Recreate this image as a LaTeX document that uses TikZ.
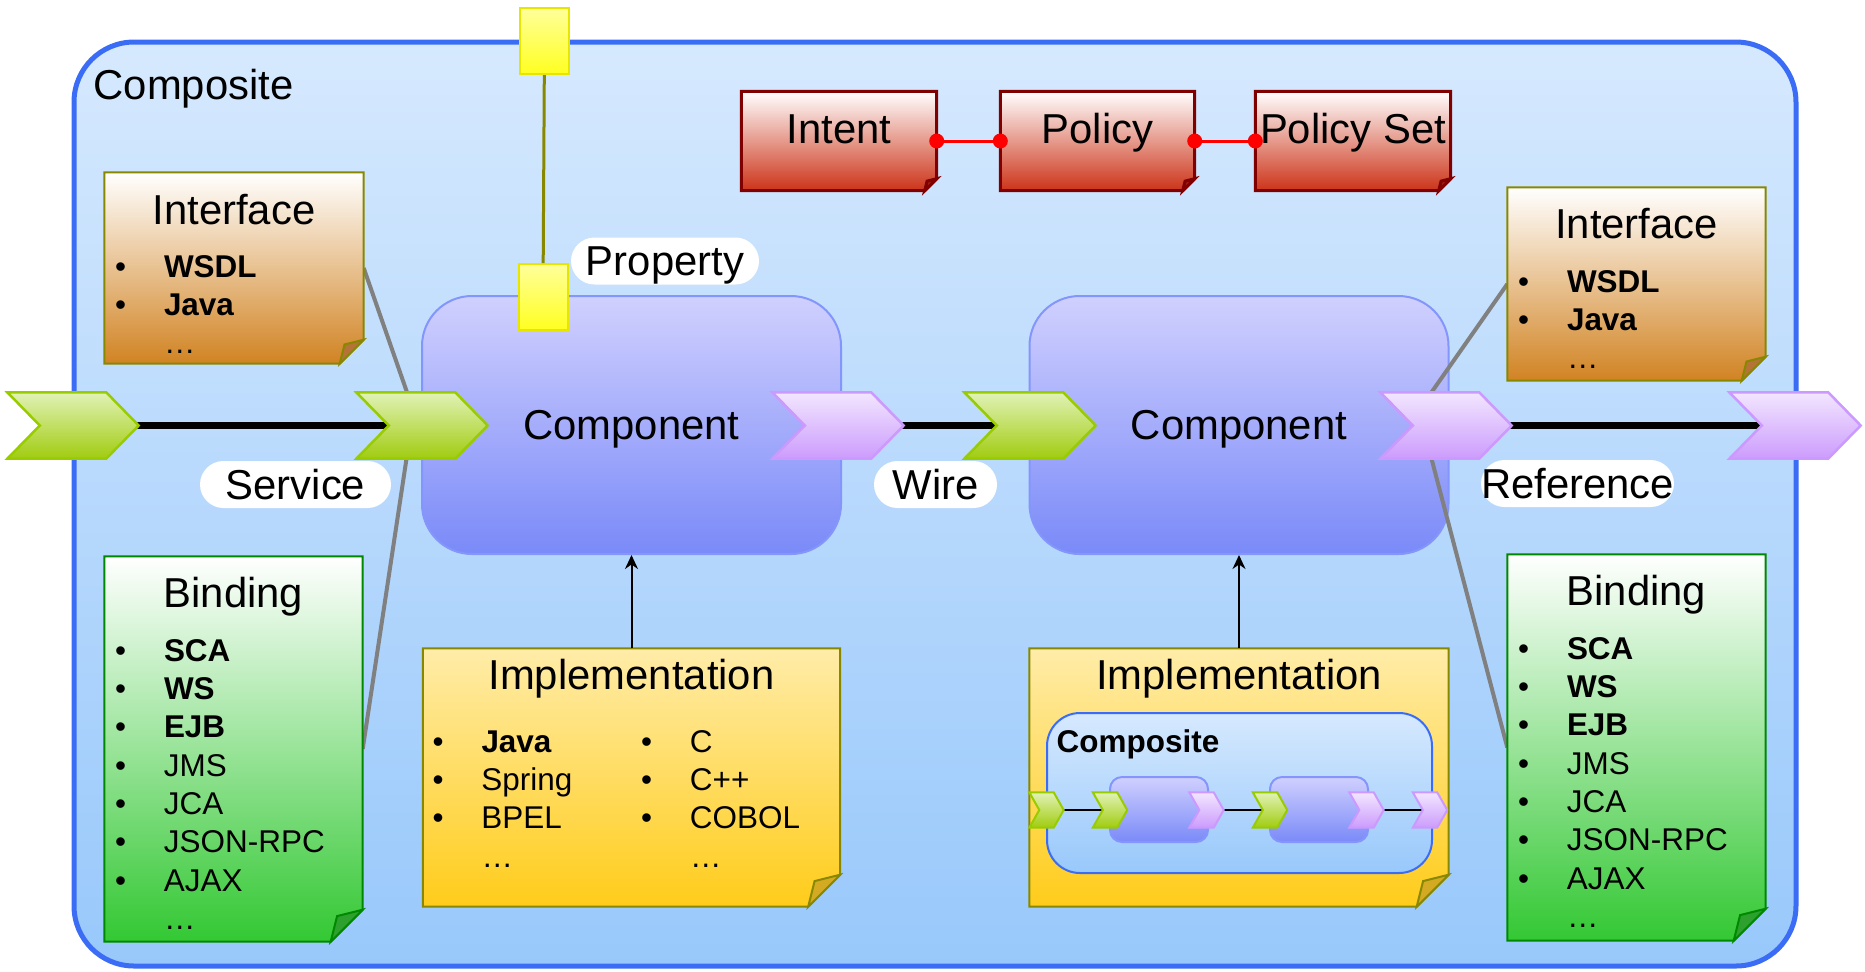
\documentclass[tikz,border=0pt]{standalone}
\usepackage{fontspec}
\setmainfont{Liberation Sans}
\usetikzlibrary{arrows.meta}

\definecolor{bgtop}{HTML}{D6E9FE}
\definecolor{bgbot}{HTML}{98C8FB}
\definecolor{frameline}{HTML}{3B6CF6}
\definecolor{comptop}{HTML}{D0D0FE}
\definecolor{compbot}{HTML}{7A8AF8}
\definecolor{compline}{HTML}{8495FB}
\definecolor{olv}{HTML}{888800}
\definecolor{brnbot}{HTML}{D18322}
\definecolor{brnflap}{HTML}{B5733A}
\definecolor{grnline}{HTML}{008800}
\definecolor{grnbot}{HTML}{33C833}
\definecolor{grnflap}{HTML}{2EA02E}
\definecolor{ylwtop}{HTML}{FFECA8}
\definecolor{ylwbot}{HTML}{FFCC1A}
\definecolor{ylwflap}{HTML}{D4AA22}
\definecolor{redline}{HTML}{800000}
\definecolor{redbot}{HTML}{CC3318}
\definecolor{redflap}{HTML}{A02010}
\definecolor{gchtop}{HTML}{E2F2B6}
\definecolor{gchbot}{HTML}{A0CC10}
\definecolor{gchline}{HTML}{99CC00}
\definecolor{pchtop}{HTML}{F2E6FF}
\definecolor{pchbot}{HTML}{CC9CFC}
\definecolor{pchline}{HTML}{CC99FF}
\definecolor{proptop}{HTML}{FFFF9A}
\definecolor{propbot}{HTML}{FFFF20}
\definecolor{propline}{HTML}{E6E600}

\begin{document}
\begin{tikzpicture}[x=0.1mm, y=-0.1mm,
    >={Stealth[length=1.4mm, width=1.3mm]},
    big/.style={font=\fontsize{11.9}{14}\selectfont, inner sep=0pt},
    small/.style={font=\fontsize{8.95}{11}\selectfont, inner sep=0pt},
    frame/.style={draw=frameline, line width=0.5mm, rounded corners=6mm,
      top color=bgtop, bottom color=bgbot, minimum width=172.2mm, minimum height=92.4mm},
    mframe/.style={draw=frameline, line width=0.2mm, rounded corners=3.3mm,
      top color=bgtop, bottom color=bgbot, minimum width=38.5mm, minimum height=16mm},
    comp/.style={big, draw=compline, line width=0.2mm, rounded corners=5mm,
      top color=comptop, bottom color=compbot, minimum width=41.9mm,
      minimum height=25.8mm, text depth=0pt},
    mcomp/.style={draw=compline, line width=0.2mm, rounded corners=1.2mm,
      top color=comptop, bottom color=compbot, minimum width=9.8mm, minimum height=6.5mm},
    ph/.style={inner sep=0pt},
    chev/.style={inner sep=0pt, minimum width=13mm, minimum height=6.5mm},
    mchev/.style={inner sep=0pt, minimum width=3.3mm, minimum height=3.4mm},
    gchev/.style={draw=gchline, line width=0.25mm, top color=gchtop, bottom color=gchbot},
    pchev/.style={draw=pchline, line width=0.25mm, top color=pchtop, bottom color=pchbot},
    brnnote/.style={draw=olv, line width=0.2mm, top color=white, bottom color=brnbot},
    grnnote/.style={draw=grnline, line width=0.2mm, top color=white, bottom color=grnbot},
    ylwnote/.style={draw=olv, line width=0.2mm, top color=ylwtop, bottom color=ylwbot},
    rednote/.style={draw=redline, line width=0.3mm, top color=white, bottom color=redbot},
    brnfold/.style={draw=olv, line width=0.2mm, fill=brnflap},
    grnfold/.style={draw=grnline, line width=0.2mm, fill=grnflap},
    ylwfold/.style={draw=olv, line width=0.2mm, fill=ylwflap},
    redfold/.style={draw=redline, line width=0.3mm, fill=redflap},
    wire/.style={line width=0.7mm},
    mwire/.style={line width=0.2mm},
    tie/.style={draw=gray, line width=0.4mm},
    pol/.style={draw=red, line width=0.3mm},
    prop/.style={draw=propline, line width=0.2mm, top color=proptop, bottom color=propbot,
      minimum width=4.9mm, minimum height=6.6mm},
    pill/.style={big, fill=white, rounded corners=2.35mm, minimum height=4.7mm, text depth=0pt}]

    \useasboundingbox (0,0) rectangle (1865,971);
    \def\bul{\makebox[4.9mm][l]{•}}

    \node[frame] (cmp) at (935,504) {};
    \node[big, anchor=base west] (cmp-l) at (93,99) {Composite};

    \foreach \n/\x in {sv0/73, sv1/422, rf1/838, sv2/1030, rf2/1446, rf0/1795}
      \node[chev] (\n) at (\x,425.5) {};
    \draw[wire] (sv0.center) -- (sv1.center);
    \draw[wire] (rf1.center) -- (sv2.center);
    \draw[wire] (rf2.center) -- (rf0.center);

    \node[comp] (cp1) at (631.5,425) {Component};
    \node[comp] (cp2) at (1239,425) {Component};

    \node[ph, minimum width=25.8mm, minimum height=19mm] (ifl) at (234,268) {};
    \node[ph, minimum width=25.7mm, minimum height=38.4mm] (bdl) at (233.5,749) {};
    \node[ph, minimum width=25.7mm, minimum height=19.2mm] (ifr) at (1636.5,284) {};
    \node[ph, minimum width=25.7mm, minimum height=38.5mm] (bdr) at (1636.5,747.5) {};
    \node[ph, minimum width=41.6mm, minimum height=25.7mm] (im1) at (631.5,777.5) {};
    \node[ph, minimum width=41.8mm, minimum height=25.7mm] (im2) at (1239,777.5) {};
    \node[ph, minimum width=19.4mm, minimum height=9.8mm] (it) at (839,141) {};
    \node[ph, minimum width=19.3mm, minimum height=9.8mm] (po) at (1097.5,141) {};
    \node[ph, minimum width=19.4mm, minimum height=9.8mm] (ps) at (1353,141) {};

    \draw[tie] (ifl.east) -- ([xshift=-1.5mm]sv1.north);
    \draw[tie] ([xshift=-1.55mm]sv1.south) -- (bdl.east);
    \draw[tie] (ifr.west) -- ([xshift=-1.45mm]rf2.north);
    \draw[tie] ([xshift=-1.45mm]rf2.south) -- (bdr.west);

    \foreach \n/\f/\c/\k in {ifl/2.4/brnnote/brnfold, ifr/2.4/brnnote/brnfold,
        bdl/3.2/grnnote/grnfold, bdr/3.2/grnnote/grnfold,
        im1/3.2/ylwnote/ylwfold, im2/3.2/ylwnote/ylwfold,
        it/1.2/rednote/redfold, po/1.2/rednote/redfold, ps/1.2/rednote/redfold} {
      \path[\c] (\n.north west) -- (\n.north east) -- ([yshift=\f mm]\n.south east)
        -- ([xshift=-\f mm]\n.south east) -- (\n.south west) -- cycle;
      \path[\k] ([yshift=\f mm]\n.south east) -- ([xshift=-0.8*\f mm, yshift=0.8*\f mm]\n.south east)
        -- ([xshift=-\f mm]\n.south east) -- cycle;
    }

    \foreach \n/\c in {sv0/gchev, sv1/gchev, sv2/gchev, rf1/pchev, rf2/pchev, rf0/pchev}
      \path[\c] (\n.north west) -- ([xshift=-3.25mm]\n.north east) -- (\n.east)
        -- ([xshift=-3.25mm]\n.south east) -- (\n.south west) -- ([xshift=3.25mm]\n.west) -- cycle;

    \node[prop] (pr0) at (544.5,41) {};
    \node[prop] (pr1) at (543,297) {};
    \draw[draw=olv, line width=0.3mm] (pr0) -- (pr1);

    \node[pill, minimum width=18.8mm] (prop-l) at (665,261) {Property};
    \node[pill, minimum width=19.1mm] (sv-l) at (295.5,484.5) {Service};
    \node[pill, minimum width=12.3mm] (wr-l) at (935.5,484.5) {Wire};
    \node[pill, minimum width=18.7mm] (rf-l) at (1577.5,483.5) {Reference};

    \path (it.center) ++(0,2) node[big, anchor=base] (it-l) {Intent};
    \path (po.center) ++(0,2) node[big, anchor=base] (po-l) {Policy};
    \path (ps.center) ++(0,2) node[big, anchor=base] (ps-l) {Policy Set};
    \draw[pol] (it.east) -- (po.west);
    \draw[pol] (po.east) -- (ps.west);
    \foreach \p in {it.east, po.west, po.east, ps.west}
      \fill[red] (\p) circle (0.75mm);

    \draw[->, line width=0.2mm] (im1.north) -- (cp1.south);
    \draw[->, line width=0.2mm] (im2.north) -- (cp2.south);

    \path (ifl.north) ++(0,52) node[big, anchor=base] (ifl-t) {Interface};
    \path (ifr.north) ++(0,51) node[big, anchor=base] (ifr-t) {Interface};
    \foreach \s in {ifl, ifr} {
      \foreach \t [count=\k] in {\textbf{WSDL}, \textbf{Java}}
        \path (\s.north west) ++(10,{105+38.3*(\k-1)}) node[small, anchor=base west] (\s-\k) {\bul\t};
      \path (\s.north west) ++(59,181) node[small, anchor=base west] (\s-e) {…};
    }

    \path (bdl.north) ++(0,51) node[big, anchor=base] (bdl-t) {Binding};
    \path (bdr.north) ++(0,51) node[big, anchor=base] (bdr-t) {Binding};
    \foreach \s in {bdl, bdr} {
      \foreach \t [count=\k] in {\textbf{SCA}, \textbf{WS}, \textbf{EJB}, JMS, JCA, JSON-RPC, AJAX}
        \path (\s.north west) ++(10,{105+38.3*(\k-1)}) node[small, anchor=base west] (\s-\k) {\bul\t};
      \path (\s.north west) ++(59,373) node[small, anchor=base west] (\s-e) {…};
    }

    \path (im1.north) ++(0,41) node[big, anchor=base] (im1-t) {Implementation};
    \path (im2.north) ++(0,41) node[big, anchor=base] (im2-t) {Implementation};
    \foreach \t [count=\k] in {\textbf{Java}, Spring, BPEL}
      \path (im1.north west) ++(9,{104+38.3*(\k-1)}) node[small, anchor=base west] (im1-a\k) {\bul\t};
    \foreach \t [count=\k] in {C, C++, COBOL}
      \path (im1.north west) ++(217.5,{104+38.3*(\k-1)}) node[small, anchor=base west] (im1-b\k) {\bul\t};
    \path (im1.north west) ++(58,219) node[small, anchor=base west] (im1-ae) {…};
    \path (im1.north west) ++(266.5,219) node[small, anchor=base west] (im1-be) {…};

    \node[mframe] (mc) at (1239.5,793) {};
    \node[small, anchor=base west] (mc-l) at (1056,752) {\textbf{Composite}};
    \foreach \n/\x in {mg1/1046.5, mg2/1110, mp1/1206.5, mg3/1270, mp2/1366.5, mp3/1430}
      \node[mchev] (\n) at (\x,810) {};
    \draw[mwire] (mg1.center) -- (mg2.center);
    \draw[mwire] (mp1.center) -- (mg3.center);
    \draw[mwire] (mp2.center) -- (mp3.center);
    \node[mcomp] (mc1) at (1159,809.5) {};
    \node[mcomp] (mc2) at (1319,809.5) {};
    \foreach \n/\c in {mg1/gchev, mg2/gchev, mg3/gchev, mp1/pchev, mp2/pchev, mp3/pchev}
      \path[\c, line width=0.2mm] (\n.north west) -- ([xshift=-1mm]\n.north east) -- (\n.east)
        -- ([xshift=-1mm]\n.south east) -- (\n.south west) -- ([xshift=1mm]\n.west) -- cycle;
  \end{tikzpicture}
\end{document}
